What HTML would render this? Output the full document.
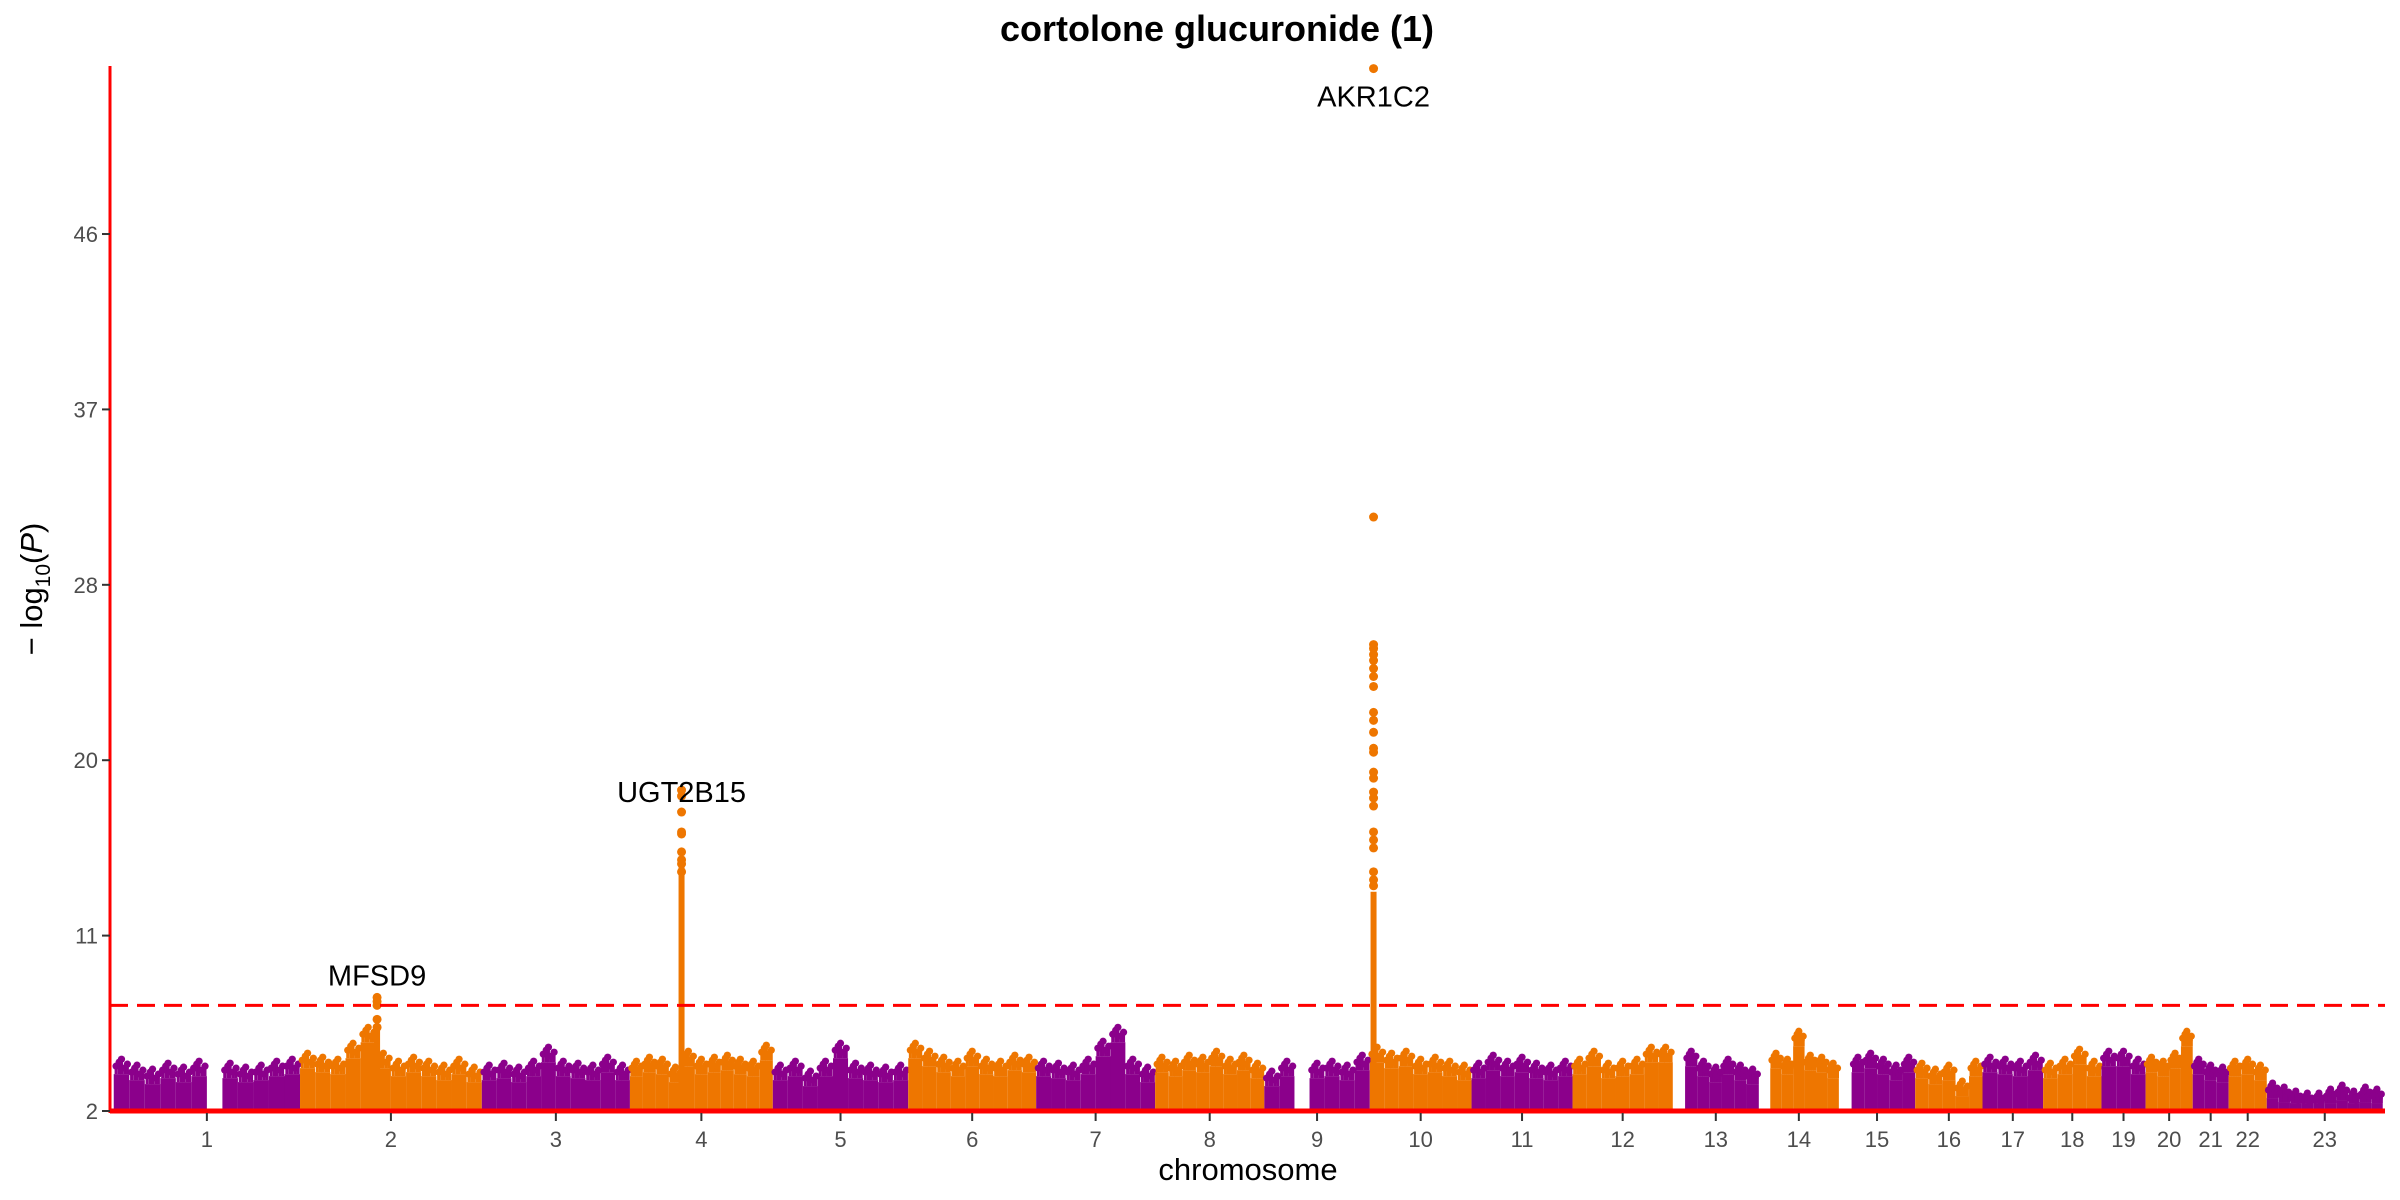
<!DOCTYPE html>
<html><head><meta charset="utf-8"><style>
html,body{margin:0;padding:0;background:#fff;}
svg{display:block;font-family:"Liberation Sans","DejaVu Sans",sans-serif;}
</style></head><body>
<svg id="chart" width="2400" height="1200" viewBox="0 0 2400 1200" xmlns="http://www.w3.org/2000/svg">
<text x="1217" y="41" text-anchor="middle" font-size="36" font-weight="bold" fill="#000">cortolone glucuronide (1)</text>
<g id="marks"></g>
<g id="axes"></g>
<text x="1248" y="1180" text-anchor="middle" font-size="31" fill="#000">chromosome</text>
<text transform="translate(42,589) rotate(-90)" text-anchor="middle" font-size="31" fill="#000">− log<tspan font-size="21" dy="8">10</tspan><tspan dy="-8">(</tspan><tspan font-style="italic">P</tspan>)</text>
</svg>
<script>
const chromLabels=["1","2","3","4","5","6","7","8","9","10","11","12","13","14","15","16","17","18","19","20","21","22","23"];
const chromLengths=[249,243,198,191,181,171,159,146,141,136,135,134,115,107,102,90,81,78,59,63,48,51,155];
const chromEnvelope=[
[4.6,4.3,4.1,4.4,4.2,4.5,null,4.4,4.2,4.3,4.5,4.6],
[4.9,4.7,4.6,5.4,6.2,4.9,4.5,4.7,4.5,4.3,4.6,4.2],
[4.3,4.4,4.2,4.5,5.2,4.5,4.4,4.3,4.7,4.3],
[4.5,4.7,4.6,4.2,5.0,4.6,4.7,4.8,4.6,4.5,5.3],
[4.3,4.5,4.0,4.5,5.4,4.4,4.3,4.2,4.3],
[5.4,5.0,4.7,4.5,5.0,4.6,4.5,4.8,4.7],
[4.5,4.4,4.3,4.6,5.5,6.2,4.6,4.2],
[4.7,4.5,4.8,4.7,5.0,4.6,4.8,4.4],
[4.0,4.5,null,4.4,4.5,4.3,4.8],
[5.2,4.9,5.0,4.6,4.7,4.5,4.3],
[4.4,4.8,4.5,4.7,4.4,4.3,4.5],
[4.6,5.0,4.4,4.5,4.6,5.2,5.2],
[null,5.0,4.5,4.2,4.6,4.3,4.1],
[null,4.9,4.6,6.0,4.8,4.7,4.4],
[null,4.7,4.9,4.6,4.3,4.7],
[4.4,4.1,4.3,3.5,4.5],
[4.7,4.6,4.5,4.8],
[4.4,4.6,5.1,4.5],
[5.0,5.0,4.6],
[4.7,4.5,4.9,6.0],
[4.6,4.3,4.2],
[4.5,4.6,4.3],
[3.4,3.2,3.0,2.9,2.9,3.1,3.3,3.0,3.2,3.1]
];
const peakChroms=[2,4,10];
const peakPositions=[103,69,5];
const peakGenes=["MFSD9","UGT2B15","AKR1C2"];
const peakColumnTops=[6.2,14.6,13.0];
const mfsd9Values=[7.7,7.5,7.3,6.6,6.2];
const ugt2b15Values=[18.1,17.8,17.0,16.0,15.9,15.0,14.6,14.4,14.0];
const akr1c2Values=[54.3,31.8,25.4,25.2,24.9,24.6,24.2,23.8,23.3,22.0,21.6,21.0,20.2,20.0,19.0,18.7,18.0,17.7,17.3,16.0,15.6,15.2,14.0,13.6,13.3];
const peakValues=[mfsd9Values,ugt2b15Values,akr1c2Values];
const yTickValues=[2,10.8,19.6,28.4,37.2,46];
const yTickLabels=["2","11","20","28","37","46"];
const threshold=7.3;

const NS="http://www.w3.org/2000/svg";
const X0=110,X1=2385,Y0=1111,YTOP=66,YMIN=2,YMAX=54.43;
const total=chromLengths.reduce((a,b)=>a+b,0);
const starts=[];let acc=0;chromLengths.forEach(l=>{starts.push(acc);acc+=l;});
function xs(cum){return X0+(cum+5)*(X1-X0-6)/total;}
function ys(v){return Y0-(v-YMIN)*(Y0-YTOP)/(YMAX-YMIN);}
const COLORS=["#8B008B","#EE7600"];
const marks=document.getElementById("marks");
const axes=document.getElementById("axes");
function mk(tag,attrs,parent){const e=document.createElementNS(NS,tag);for(const k in attrs)e.setAttribute(k,attrs[k]);parent.appendChild(e);return e;}

chromEnvelope.forEach((vals,i)=>{
  const col=COLORS[i%2];
  const g=mk("g",{},marks);
  
  
  const n=vals.length,seg=chromLengths[i]/n;
  vals.forEach((v,j)=>{
    if(v==null)return;
    const xa=xs(starts[i]+j*seg),xb=xs(starts[i]+(j+1)*seg);
    const w=xb-xa;
    const fillTop=Math.max(YMIN+0.4,v-0.75);
    const r=mk("rect",{x:xa,y:ys(fillTop),width:Math.max(1,w),height:Y0-ys(fillTop),fill:col},g);
    
    
    const fracs=[0.15,0.35,0.5,0.7,0.88];
    const offs=[0.35,0.15,0,0.45,0.25];
    fracs.forEach((f,k)=>{
      const cx=xa+w*f, vv=v-offs[k];
      const l=mk("line",{x1:cx,x2:cx,y1:ys(fillTop),y2:ys(vv),stroke:col,"stroke-width":3},g);
      
      
      const c=mk("circle",{cx:cx,cy:ys(vv),r:3.6,fill:col},g);
      
      
    });
  });
});

peakChroms.forEach((ch,k)=>{
  const i=ch-1,col=COLORS[i%2];
  const cx=xs(starts[i]+peakPositions[k]);
  const g=mk("g",{},marks);
  
  
  const r=mk("rect",{x:cx-3,y:ys(peakColumnTops[k]),width:6,height:Y0-ys(peakColumnTops[k]),fill:col},g);
  
  
  peakValues[k].forEach(v=>{
    const c=mk("circle",{cx:cx,cy:ys(v),r:4.5,fill:col},g);
    
    
  });
  const top=Math.max(...peakValues[k]);
  const t=mk("text",{x:cx,"text-anchor":"middle","font-size":29,fill:"#000"},g);
  
  
  if(top>YMAX-2){t.setAttribute("y",ys(top)+38);}
  else if(top<10){t.setAttribute("y",ys(top)-12);}
  else{t.setAttribute("y",ys(top)+12);}
  t.textContent=peakGenes[k];
});

const th=mk("line",{x1:X0,x2:X1,y1:ys(threshold),y2:ys(threshold),stroke:"#FF0000","stroke-width":3,"stroke-dasharray":"18,9"},axes);



const ya=mk("line",{x1:X0,x2:X0,y1:YTOP,y2:Y0+2,stroke:"#FF0000","stroke-width":3},axes);


const xa=mk("line",{x1:X0,x2:X1,y1:Y0,y2:Y0,stroke:"#FF0000","stroke-width":5},axes);



yTickValues.forEach((v,i)=>{
  const tk=mk("line",{x1:X0-8,x2:X0,y1:ys(v),y2:ys(v),stroke:"#333","stroke-width":2},axes);
  
  
  const t=mk("text",{x:X0-12,y:ys(v)+8,"text-anchor":"end","font-size":22,fill:"#4d4d4d"},axes);
  
  
  t.textContent=yTickLabels[i];
});
chromLabels.forEach((lab,i)=>{
  const cx=xs(starts[i]+chromLengths[i]/2);
  const tk=mk("line",{x1:cx,x2:cx,y1:Y0+2,y2:Y0+10,stroke:"#333","stroke-width":2},axes);
  
  
  const t=mk("text",{x:cx,y:Y0+36,"text-anchor":"middle","font-size":22,fill:"#4d4d4d"},axes);
  
  
  t.textContent=lab;
});
</script>
</body></html>
